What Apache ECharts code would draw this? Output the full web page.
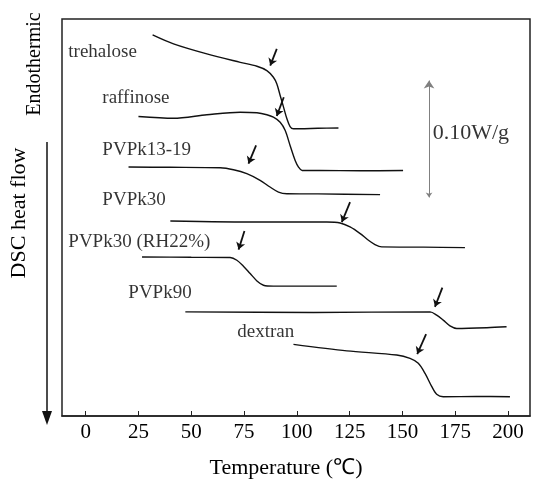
<!DOCTYPE html>
<html>
<head>
<meta charset="utf-8">
<script src="https://cdn.jsdelivr.net/npm/echarts@6/dist/echarts.min.js"></script>
<style>
html,body{margin:0;padding:0;background:#fff;}
#chart{width:533px;height:483px;}
</style>
</head>
<body>
<div id="chart"></div>
<script>
// Temperature (°C) vs DSC heat flow (mW/g, arbitrary offset per curve)
const trehalose = [[31.7,326.4],[41.6,318.7],[57.4,310.1],[73.2,302.9],[81.1,299.5],[85.8,295.8],[88.9,290.1],[90.5,284.5],[92.1,274.5],[93.7,264.5],[95.3,254.5],[96.8,247.9],[98.4,246.0],[101.6,246.0],[110.0,246.4],[119.7,246.6]];
const raffinose = [[25.0,256.5],[41.6,255.0],[57.4,258.0],[73.2,260.2],[81.1,259.7],[85.8,258.0],[88.9,255.9],[92.1,251.6],[94.5,244.5],[96.8,231.7],[99.2,218.9],[100.8,213.2],[102.5,210.3],[111.0,210.3],[130.0,210.0],[150.3,210.2]];
const pvpk1319 = [[20.3,213.2],[40.0,213.0],[63.7,212.6],[70.0,210.9],[76.3,207.5],[82.6,201.8],[87.3,196.1],[91.3,191.8],[95.3,190.4],[110.0,190.2],[139.4,189.6]];
const pvpk30 = [[40.1,167.0],[82.6,166.1],[114.2,166.1],[120.5,165.3],[125.2,161.9],[130.0,156.2],[133.9,150.5],[137.0,146.8],[140.2,144.8],[160.0,144.6],[179.6,144.2]];
const pvpk30rh = [[26.7,136.2],[50.0,135.9],[68.4,135.7],[71.6,133.4],[74.7,128.3],[77.9,122.0],[81.1,115.7],[84.2,112.0],[88.9,111.2],[118.9,111.2]];
const pvpk90 = [[47.2,89.2],[107.9,88.7],[163.1,89.2],[166.2,86.4],[169.3,82.1],[172.5,77.2],[175.7,75.0],[190.0,75.6],[199.3,76.4]];
const dextran = [[98.4,61.3],[123.7,55.8],[147.3,52.2],[153.6,49.3],[157.5,45.1],[160.7,36.5],[163.9,25.1],[166.2,18.6],[169.3,16.5],[185.0,16.7],[200.9,16.5]];

// Tg arrows: [tail, head]
const arrowTrehalose = [[90.5,314.4],[87.4,300.1]];
const arrowRaffinose = [[93.8,273.0],[90.5,256.9]];
const arrowPvpk1319 = [[80.7,231.7],[77.1,216.1]];
const arrowPvpk30 = [[125.2,183.2],[121.3,166.1]];
const arrowPvpk30rh = [[75.2,158.4],[72.4,142.5]];
const arrowPvpk90 = [[168.9,110.0],[165.4,93.5]];
const arrowDextran = [[161.2,70.1],[157.0,53.0]];

// scale bar: 0.10 W/g = 100 mW/g
const scaleBar = [[162.6,187.2],[162.6,287.3]];

const curveNames = ['trehalose','raffinose','PVPk13-19','PVPk30','PVPk30 (RH22%)','PVPk90','dextran'];
const labelAnchors = [[-8.2,311.8],[7.9,272.4],[7.9,227.8],[7.9,184.7],[-8.2,149.4],[20.2,105.2],[71.8,72.0]];
const scaleLabel = '0.10W/g';
const scaleLabelAnchor = [164.3,242.0];
const xTicks = [0,25,50,75,100,125,150,175,200];

const curves = [trehalose, raffinose, pvpk1319, pvpk30, pvpk30rh, pvpk90, dextran];
const arrows = [arrowTrehalose, arrowRaffinose, arrowPvpk1319, arrowPvpk30, arrowPvpk30rh, arrowPvpk90, arrowDextran];

const serif = 'Liberation Serif, Times New Roman, serif';
const ink = '#000';

const series = curves.map((d, i) => ({
  type: 'line',
  name: curveNames[i],
  data: d,
  showSymbol: false,
  smooth: 0.3,
  lineStyle: {color: '#111', width: 1.4},
  silent: true,
  z: 3
}));

series.push({
  type: 'lines',
  coordinateSystem: 'cartesian2d',
  data: arrows.map(a => ({coords: a})),
  symbol: ['none', 'arrow'],
  symbolSize: 7,
  lineStyle: {color: '#111', width: 1.8, opacity: 1},
  silent: true,
  z: 4
});

series.push({
  type: 'lines',
  coordinateSystem: 'cartesian2d',
  data: [{coords: scaleBar}],
  symbol: ['arrow', 'arrow'],
  symbolSize: [5, 8],
  lineStyle: {color: '#808080', width: 1, opacity: 1},
  silent: true,
  z: 4
});

series.push({
  type: 'scatter',
  symbolSize: 0,
  silent: true,
  data: curveNames.map((n, i) => ({name: n, value: labelAnchors[i]}))
    .concat([{name: scaleLabel, value: scaleLabelAnchor, label: {fontSize: 22}}]),
  label: {
    show: true,
    position: 'right',
    distance: 0,
    formatter: p => p.name,
    fontFamily: serif,
    fontSize: 19,
    color: ink
  },
  z: 5
});

const chart = echarts.init(document.getElementById('chart'), null, {renderer: 'canvas'});
chart.setOption({
  animation: false,
  backgroundColor: '#fff',
  grid: {left: 62, right: 3, top: 19, bottom: 67, show: true, borderColor: '#222', borderWidth: 1.5, backgroundColor: 'transparent'},
  xAxis: {
    type: 'value',
    min: -11.2,
    max: 210.4,
    axisLine: {show: true, lineStyle: {color: '#222', width: 1.5}},
    axisTick: {show: true, inside: true, length: 5, customValues: xTicks, lineStyle: {color: '#222'}},
    axisLabel: {show: true, customValues: xTicks, fontFamily: serif, fontSize: 21, color: ink, margin: 6},
    splitLine: {show: false}
  },
  yAxis: {
    type: 'value',
    min: 0,
    max: 340,
    show: false
  },
  graphic: [
    {type: 'text', x: 35, y: 64, rotation: Math.PI / 2,
     style: {text: 'Endothermic', font: '20px ' + serif, fill: ink, align: 'center', verticalAlign: 'middle'}},
    {type: 'text', x: 19, y: 213, rotation: Math.PI / 2,
     style: {text: 'DSC heat flow', font: '22px ' + serif, fill: ink, align: 'center', verticalAlign: 'middle'}},
    {type: 'line', shape: {x1: 47, y1: 142, x2: 47, y2: 414}, style: {stroke: '#111', lineWidth: 1.5}},
    {type: 'polygon', shape: {points: [[42, 411], [52, 411], [47, 425]]}, style: {fill: '#111'}},
    {type: 'text', x: 286, y: 468,
     style: {text: 'Temperature (℃)', font: '22px ' + serif, fill: ink, align: 'center', verticalAlign: 'middle'}}
  ],
  series: series
});
</script>
</body>
</html>
